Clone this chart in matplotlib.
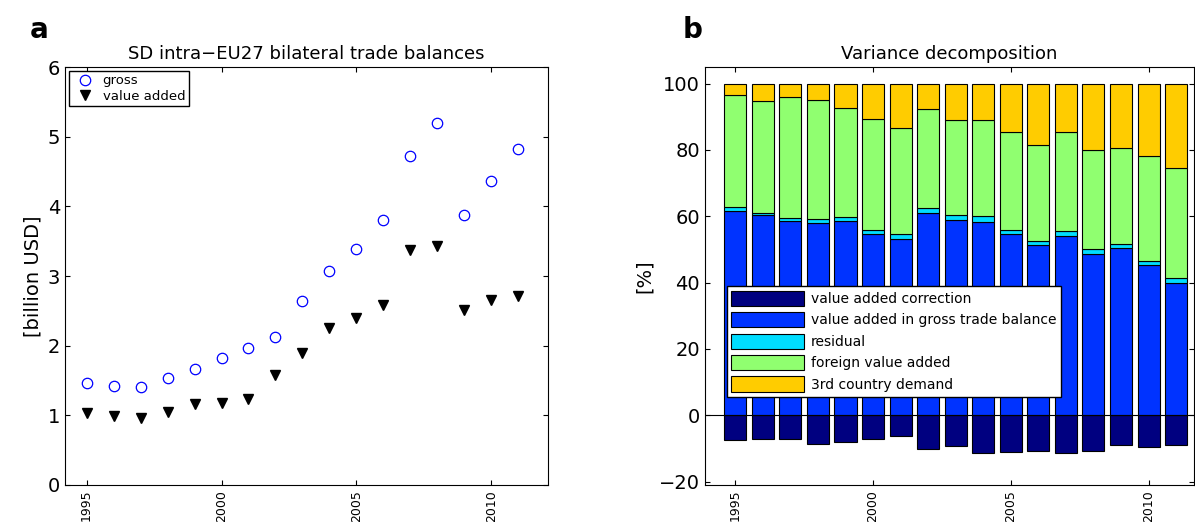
import matplotlib
matplotlib.use("Agg")
import matplotlib.pyplot as plt
import numpy as np

years = np.arange(1995, 2012)
gross = [1.47,1.42,1.41,1.53,1.66,1.83,1.97,2.12,2.64,3.07,3.39,3.80,4.72,5.20,3.88,4.36,4.82]
value_added = [1.03,0.99,0.96,1.05,1.16,1.17,1.24,1.58,1.89,2.26,2.39,2.59,3.37,3.43,2.51,2.65,2.72]

va_corr = [-7.5,-7.2,-7.2,-8.5,-8.1,-7.2,-6.1,-10.1,-9.1,-11.3,-11.2,-10.8,-11.5,-10.7,-8.8,-9.4,-8.8]
va_top = [61.5,60.5,58.7,58.1,58.5,54.6,53.3,61.1,58.9,58.4,54.6,51.3,54.1,48.7,50.3,45.3,40.0]
res_top = [62.7,61.1,59.6,59.1,59.8,55.8,54.8,62.5,60.4,60.1,55.9,52.7,55.7,50.2,51.7,46.6,41.4]
fva_top = [96.7,94.7,96.1,95.2,92.7,89.4,86.7,92.2,88.9,89.0,85.3,81.6,85.3,79.9,80.6,78.2,74.7]
total = [100]*17

fig = plt.figure(figsize=(11.95,5.22), dpi=100)
W, H = 1195, 522
ax1 = fig.add_axes([65/W, 1-485/H, (548-65)/W, (485-67)/H])
ax2 = fig.add_axes([705/W, 1-485/H, (1194-705)/W, (485-67)/H])

ax1.plot(years, gross, 'o', mfc='none', mec='blue', ms=7.5, mew=0.9, label='gross', ls='none')
ax1.plot(years, value_added, 'v', color='black', ms=7.5, label='value added', ls='none')
ax1.set_xlim(1994.2, 2012.1)
ax1.set_ylim(0, 6)
ax1.set_ylabel('[billion USD]', fontsize=14)
ax1.set_title('SD intra\u2212EU27 bilateral trade balances', fontsize=13)
ax1.legend(loc='upper left', fontsize=9.5, handletextpad=0.3, borderpad=0.25,
           labelspacing=0.2, borderaxespad=0.3,
           fancybox=False, edgecolor='black', framealpha=1)

w = 0.8
kw = dict(width=w, edgecolor='black', linewidth=0.8)
va = np.array(va_top); res = np.array(res_top); fva = np.array(fva_top); tot = np.array(total)
ax2.bar(years, va_corr, color='#000080', label='value added correction', **kw)
ax2.bar(years, va, color='#0033ff', label='value added in gross trade balance', **kw)
ax2.bar(years, res-va, bottom=va, color='#00ddff', label='residual', **kw)
ax2.bar(years, fva-res, bottom=res, color='#90ff70', label='foreign value added', **kw)
ax2.bar(years, tot-fva, bottom=fva, color='#ffcc00', label='3rd country demand', **kw)
ax2.axhline(0, color='black', lw=0.8)
ax2.set_xlim(1993.9, 2011.65)
ax2.set_ylim(-21, 105)
ax2.set_ylabel('[%]', fontsize=14)
ax2.set_title('Variance decomposition', fontsize=13)
leg = ax2.legend(loc='lower left', bbox_to_anchor=(0.03, 0.195), fontsize=10,
           fancybox=False, edgecolor='black', framealpha=1, handlelength=5.2,
           handleheight=1.3, borderpad=0.35, labelspacing=0.45, handletextpad=0.5)

for ax in (ax1, ax2):
    ax.set_xticks([1995, 2000, 2005, 2010])
    ax.tick_params(axis='x', labelrotation=90, labelsize=9, direction='in', top=True)
    ax.tick_params(axis='y', labelsize=14, direction='in', right=True)
ax2.set_yticks([-20,0,20,40,60,80,100])

fig.text(30/W, 1-30/H, 'a', fontsize=20, fontweight='bold', ha='left', va='center')
fig.text(683/W, 1-30/H, 'b', fontsize=20, fontweight='bold', ha='left', va='center')
fig.savefig('out.png', dpi=100)
